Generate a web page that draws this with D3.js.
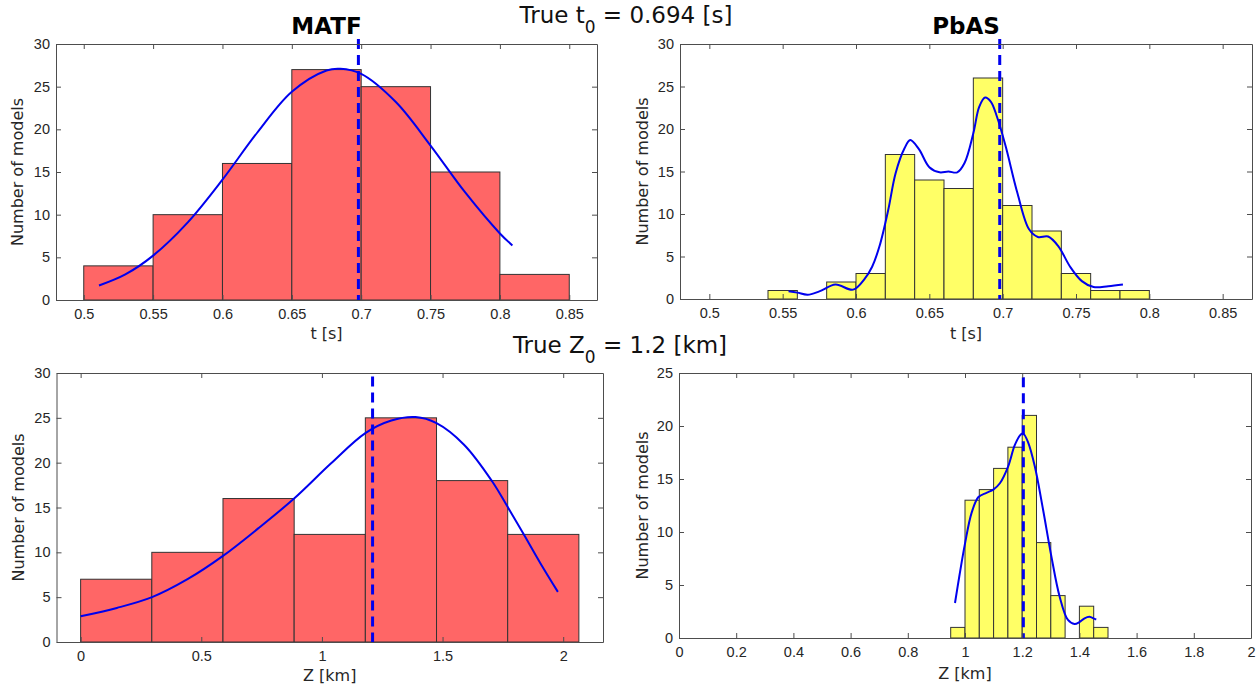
<!DOCTYPE html>
<head>
    <meta charset="utf-8">
    <title>MATF vs PbAS</title>
    <style>
        body { margin: 0; background: #fff; }
        svg { display: block; font-family: "DejaVu Sans", sans-serif; }
        .tick text { font-size: 14.5px; fill: #262626; }
        .tick line { stroke: #4d4d4d; }
        .domain { stroke: #4d4d4d; }
        .bar { stroke: #333; stroke-width: 1; }
        .fit { fill: none; stroke: #0000ee; stroke-width: 2; }
        .truth { stroke: #0000ee; stroke-width: 3; stroke-dasharray: 10,6; }
        .lbl { font-size: 16px; fill: #262626; }
        .ttl { font-size: 23px; font-weight: bold; fill: #000; }
        .sup { font-size: 23px; fill: #111; }
    </style>
</head>
<body>
<script src="https://d3js.org/d3.v7.min.js"></script>
<script>

// --- histogram data (bin edges + counts) ---
var tMatfEdges = [0.50, 0.55, 0.60, 0.65, 0.70, 0.75, 0.80, 0.85];
var tMatfCounts = [4, 10, 16, 27, 25, 15, 3];

var tPbasEdges = [0.54, 0.56, 0.58, 0.60, 0.62, 0.64, 0.66, 0.68, 0.70, 0.72, 0.74, 0.76, 0.78, 0.80];
var tPbasCounts = [1, 0, 2, 3, 17, 14, 13, 26, 11, 8, 3, 1, 1];

var zMatfEdges = [0, 0.295, 0.59, 0.885, 1.18, 1.475, 1.77, 2.065];
var zMatfCounts = [7, 10, 16, 12, 25, 18, 12];

var zPbasEdges = [0.95, 1.00, 1.05, 1.10, 1.15, 1.20, 1.25, 1.30, 1.35, 1.40, 1.45, 1.50];
var zPbasCounts = [1, 13, 14, 16, 18, 21, 9, 4, 0, 3, 1];

// --- fitted curves ---
var tMatfCurveX = [0.511, 0.53, 0.55, 0.575, 0.60, 0.625, 0.65, 0.675, 0.685, 0.70, 0.725, 0.75, 0.775, 0.80, 0.809];
var tMatfCurveY = [1.7, 3.0, 5.2, 9.1, 14.1, 19.6, 24.4, 26.9, 27.1, 26.5, 23.2, 18.1, 12.6, 7.8, 6.4];

var tPbasCurveX = [0.554, 0.560, 0.567, 0.575, 0.586, 0.598, 0.606, 0.611, 0.616, 0.622, 0.627, 0.633, 0.637, 0.643, 0.650, 0.657, 0.663, 0.669, 0.674, 0.680, 0.684, 0.688, 0.692, 0.696, 0.702, 0.710, 0.718, 0.724, 0.731, 0.738, 0.746, 0.754, 0.762, 0.772, 0.782];
var tPbasCurveY = [0.9, 0.75, 0.5, 0.9, 1.7, 1.1, 2.4, 3.8, 6.2, 10.5, 14.8, 17.7, 18.7, 17.6, 15.5, 14.9, 15.0, 14.9, 16.0, 19.5, 22.6, 23.7, 23.2, 21.5, 18.0, 12.5, 8.2, 7.3, 7.35, 6.2, 3.8, 2.1, 1.4, 1.5, 1.7];

var zMatfCurveX = [0, 0.15, 0.296, 0.443, 0.59, 0.736, 0.886, 1.037, 1.18, 1.288, 1.388, 1.475, 1.589, 1.706, 1.769, 1.84, 1.906, 1.978];
var zMatfCurveY = [2.87, 3.8, 5.0, 7.0, 9.6, 12.67, 16.03, 19.9, 23.3, 24.7, 25.08, 24.4, 22.0, 17.9, 15.1, 11.85, 8.76, 5.59];

var zPbasCurveX = [0.965, 0.98, 1.0, 1.023, 1.047, 1.075, 1.099, 1.122, 1.151, 1.174, 1.195, 1.203, 1.22, 1.244, 1.273, 1.302, 1.331, 1.36, 1.383, 1.40, 1.418, 1.435, 1.453, 1.459];
var zPbasCurveY = [3.3, 5.8, 8.9, 11.8, 13.3, 13.7, 14.0, 14.6, 16.2, 18.2, 19.2, 19.3, 18.5, 16.2, 12.1, 7.7, 3.9, 1.7, 1.32, 1.5, 1.86, 2.0, 1.8, 1.75];

// true values (dashed marker) as drawn in each panel
var trueT = 0.698;
var trueZMatf = 1.21;
var trueZPbas = 1.204;

// ticks
var tTicks = [0.5, 0.55, 0.6, 0.65, 0.7, 0.75, 0.8, 0.85];
var zTicksMatf = [0, 0.5, 1, 1.5, 2];
var zTicksPbas = [0, 0.2, 0.4, 0.6, 0.8, 1, 1.2, 1.4, 1.6, 1.8, 2];
var yTicks30 = [0, 5, 10, 15, 20, 25, 30];
var yTicks25 = [0, 5, 10, 15, 20, 25];

var width = 1260, height = 684;

var svg = d3.select("body").append("svg")
    .attr("width", width)
    .attr("height", height);

var panels = [
  { title: "MATF", edges: tMatfEdges, counts: tMatfCounts, cx: tMatfCurveX, cy: tMatfCurveY,
    fill: "#ff6666", x0: 56, x1: 597, y0: 44, y1: 300, xDom: [0.48, 0.87], yMax: 30,
    xTicks: tTicks, yTicks: yTicks30, xLabel: "t [s]", labBase: 339, yLabX: 23,
    mark: trueT, markTop: 30.6 },
  { title: "PbAS", edges: tPbasEdges, counts: tPbasCounts, cx: tPbasCurveX, cy: tPbasCurveY,
    fill: "#ffff66", x0: 680, x1: 1252, y0: 44, y1: 299, xDom: [0.48, 0.87], yMax: 30,
    xTicks: tTicks, yTicks: yTicks30, xLabel: "t [s]", labBase: 339, yLabX: 648,
    mark: trueT, markTop: 30.6 },
  { title: null, edges: zMatfEdges, counts: zMatfCounts, cx: zMatfCurveX, cy: zMatfCurveY,
    fill: "#ff6666", x0: 56.5, x1: 603, y0: 373, y1: 642, xDom: [-0.1, 2.165], yMax: 30,
    xTicks: zTicksMatf, yTicks: yTicks30, xLabel: "Z [km]", labBase: 681, yLabX: 24,
    mark: trueZMatf, markTop: 29.6 },
  { title: null, edges: zPbasEdges, counts: zPbasCounts, cx: zPbasCurveX, cy: zPbasCurveY,
    fill: "#ffff66", x0: 679, x1: 1251, y0: 373, y1: 638, xDom: [0, 2], yMax: 25,
    xTicks: zTicksPbas, yTicks: yTicks25, xLabel: "Z [km]", labBase: 679, yLabX: 648,
    mark: trueZPbas, markTop: 24.6 }
];

function fmt(v) { return String(+v.toFixed(2)); }

panels.forEach(function(p) {
  var x = d3.scaleLinear().domain(p.xDom).range([p.x0, p.x1]);
  var y = d3.scaleLinear().domain([0, p.yMax]).range([p.y1, p.y0]);
  var g = svg.append("g");

  // bars
  var bins = p.counts.map(function(c, i) { return { a: p.edges[i], b: p.edges[i + 1], c: c }; })
      .filter(function(d) { return d.c > 0; });
  g.selectAll(".bar").data(bins).enter().append("rect")
      .attr("class", "bar")
      .attr("fill", p.fill)
      .attr("x", function(d) { return x(d.a); })
      .attr("width", function(d) { return x(d.b) - x(d.a); })
      .attr("y", function(d) { return y(d.c); })
      .attr("height", function(d) { return y(0) - y(d.c); });

  // fitted curve
  var pts = p.cx.map(function(v, i) { return [v, p.cy[i]]; });
  g.append("path")
      .attr("class", "fit")
      .attr("d", d3.line()
          .curve(d3.curveCatmullRom.alpha(0.5))
          .x(function(d) { return x(d[0]); })
          .y(function(d) { return y(d[1]); })(pts));

  // true value marker
  g.append("line")
      .attr("class", "truth")
      .attr("x1", x(p.mark)).attr("x2", x(p.mark))
      .attr("y1", y(p.markTop)).attr("y2", y(0));

  // axes (box with inward ticks)
  g.append("g").attr("transform", "translate(0," + p.y1 + ")")
      .call(d3.axisBottom(x).tickValues(p.xTicks).tickFormat(fmt).tickSize(-5).tickSizeOuter(0).tickPadding(9));
  g.append("g").attr("transform", "translate(0," + p.y0 + ")")
      .call(d3.axisTop(x).tickValues(p.xTicks).tickFormat("").tickSize(-5).tickSizeOuter(0));
  g.append("g").attr("transform", "translate(" + p.x0 + ",0)")
      .call(d3.axisLeft(y).tickValues(p.yTicks).tickSize(-5).tickSizeOuter(0).tickPadding(6));
  g.append("g").attr("transform", "translate(" + p.x1 + ",0)")
      .call(d3.axisRight(y).tickValues(p.yTicks).tickFormat("").tickSize(-5).tickSizeOuter(0));
  g.selectAll(".tick text").attr("font-family", null).attr("font-size", null);

  // labels
  g.append("text")
      .attr("class", "lbl")
      .attr("text-anchor", "middle")
      .attr("x", (p.x0 + p.x1) / 2)
      .attr("y", p.labBase)
      .text(p.xLabel);
  g.append("text")
      .attr("class", "lbl")
      .attr("text-anchor", "middle")
      .attr("transform", "translate(" + p.yLabX + "," + ((p.y0 + p.y1) / 2) + ")rotate(-90)")
      .text("Number of models");

  if (p.title) {
    g.append("text")
        .attr("class", "ttl")
        .attr("text-anchor", "middle")
        .attr("x", (p.x0 + p.x1) / 2)
        .attr("y", 34)
        .text(p.title);
  }
});

// row titles with subscripts
function rowTitle(cx, base, sym, rest) {
  var t = svg.append("text")
      .attr("class", "sup")
      .attr("text-anchor", "middle")
      .attr("x", cx)
      .attr("y", base);
  t.append("tspan").text("True " + sym);
  t.append("tspan").attr("dy", 10).attr("font-size", 17).text("0");
  t.append("tspan").attr("dy", -10).text(" = " + rest);
}
rowTitle(626, 23, "t", "0.694 [s]");
rowTitle(620, 353, "Z", "1.2 [km]");

</script>
